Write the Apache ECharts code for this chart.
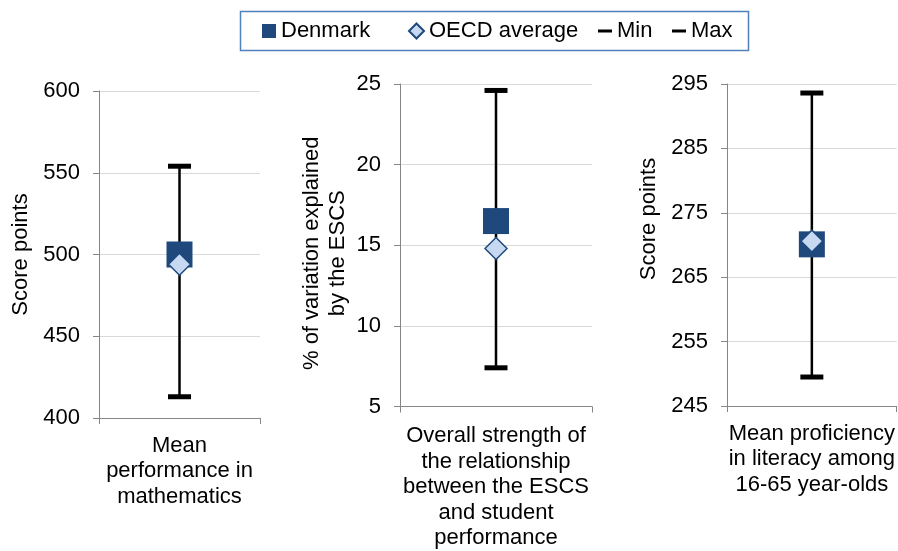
<!DOCTYPE html>
<html>
<head>
<meta charset="utf-8">
<script src="https://cdn.jsdelivr.net/npm/echarts@6/dist/echarts.min.js"></script>
<style>
html,body{margin:0;padding:0;background:#fff;}
#chart{width:898px;height:551px;}
</style>
</head>
<body>
<div id="chart"></div>
<script>
// ---- data ----
const categories = [
  'Mean\nperformance in\nmathematics',
  'Overall strength of\nthe relationship\nbetween the ESCS\nand student\nperformance',
  'Mean proficiency\nin literacy among\n16-65 year-olds'
];
const denmark = [500, 16.5, 270.1];
const oecdAverage = [494, 14.8, 270.6];
const minValues = [413, 7.4, 249.5];
const maxValues = [554, 24.6, 293.6];
const yMins = [400, 5, 245];
const yMaxs = [600, 25, 295];
const yIntervals = [50, 5, 10];
const yNames = ['Score points', '% of variation explained\nby the ESCS', 'Score points'];
const legendNames = ['Denmark', 'OECD average', 'Min', 'Max'];

// ---- layout / style ----
const FONT = 'Liberation Sans, Arial, sans-serif';
const FS = 22;
const grids = [
  {left: 99, top: 91, width: 161, height: 327},
  {left: 400, top: 84, width: 192, height: 326},
  {left: 727, top: 84, width: 178, height: 322}
];
const nameGaps = [65, 49, 65];
const namePads = [[0,0,0,0], [0,16,0,0], [0,0,0,52]];
const labelMargins = [15, 17, 15];
const navy = '#1F497D';
const light = '#C6D9F1';

const xAxes = [], yAxes = [], series = [];
categories.forEach((cat, i) => {
  xAxes.push({
    type: 'category', gridIndex: i, data: [cat], boundaryGap: true,
    axisLine: {lineStyle: {color: '#868686', width: 1}},
    axisTick: {show: true, length: 6, lineStyle: {color: '#868686'}},
    axisLabel: {color: '#000', fontFamily: FONT, fontSize: FS, lineHeight: 25.5, margin: labelMargins[i], interval: 0},
    splitLine: {show: false}
  });
  yAxes.push({
    type: 'value', gridIndex: i, min: yMins[i], max: yMaxs[i], interval: yIntervals[i],
    name: yNames[i], nameLocation: 'middle', nameGap: nameGaps[i], nameRotate: 90,
    nameTextStyle: {color: '#000', fontFamily: FONT, fontSize: FS, lineHeight: 26, padding: namePads[i]},
    axisLine: {show: true, lineStyle: {color: '#868686', width: 1}},
    axisTick: {show: true, length: 6, lineStyle: {color: '#868686'}},
    axisLabel: {color: '#000', fontFamily: FONT, fontSize: FS, margin: 19},
    splitLine: {show: true, lineStyle: {color: '#D9D9D9', width: 1}}
  });
  series.push({
    name: 'range', type: 'line', xAxisIndex: i, yAxisIndex: i, z: 1,
    data: [[0, minValues[i]], [0, maxValues[i]]],
    symbol: 'none', lineStyle: {color: '#000', width: 2.5}, silent: true, animation: false
  });
  series.push({
    name: 'Min', type: 'scatter', xAxisIndex: i, yAxisIndex: i, z: 2,
    data: [[0, minValues[i]]], symbol: 'rect', symbolSize: [23, 5],
    itemStyle: {color: '#000', opacity: 1}, animation: false
  });
  series.push({
    name: 'Max', type: 'scatter', xAxisIndex: i, yAxisIndex: i, z: 2,
    data: [[0, maxValues[i]]], symbol: 'rect', symbolSize: [23, 5],
    itemStyle: {color: '#000', opacity: 1}, animation: false
  });
  series.push({
    name: 'Denmark', type: 'scatter', xAxisIndex: i, yAxisIndex: i, z: 3,
    data: [[0, denmark[i]]], symbol: 'rect', symbolSize: 26,
    itemStyle: {color: navy, opacity: 1}, animation: false
  });
  series.push({
    name: 'OECD average', type: 'scatter', xAxisIndex: i, yAxisIndex: i, z: 4,
    data: [[0, oecdAverage[i]]], symbol: 'diamond', symbolSize: 22,
    itemStyle: {color: light, borderColor: navy, borderWidth: 1.5, opacity: 1}, animation: false
  });
});

const legendText = {color: '#000', fontFamily: FONT, fontSize: FS};
const legends = [
  {data: [{name: legendNames[0], icon: 'rect'}], left: 262, itemWidth: 14, itemHeight: 14},
  {data: [{name: legendNames[1], icon: 'diamond'}], left: 408, itemWidth: 15, itemHeight: 15},
  {data: [{name: legendNames[2], icon: 'rect'}], left: 598, itemWidth: 14, itemHeight: 3},
  {data: [{name: legendNames[3], icon: 'rect'}], left: 672, itemWidth: 14, itemHeight: 3}
].map(l => Object.assign({
  top: 20, padding: 0, itemGap: 0, textStyle: legendText, selectedMode: false,
  itemStyle: {opacity: 1}
}, l));

const chart = echarts.init(document.getElementById('chart'), null, {renderer: 'canvas'});
chart.setOption({
  backgroundColor: '#fff',
  animation: false,
  grid: grids,
  xAxis: xAxes,
  yAxis: yAxes,
  legend: legends,
  series: series,
  graphic: [{
    type: 'rect', left: 238, top: 9, z: 0,
    shape: {width: 508, height: 39},
    style: {fill: 'none', stroke: '#4F81BD', lineWidth: 1.5}
  }]
});
</script>
</body>
</html>
